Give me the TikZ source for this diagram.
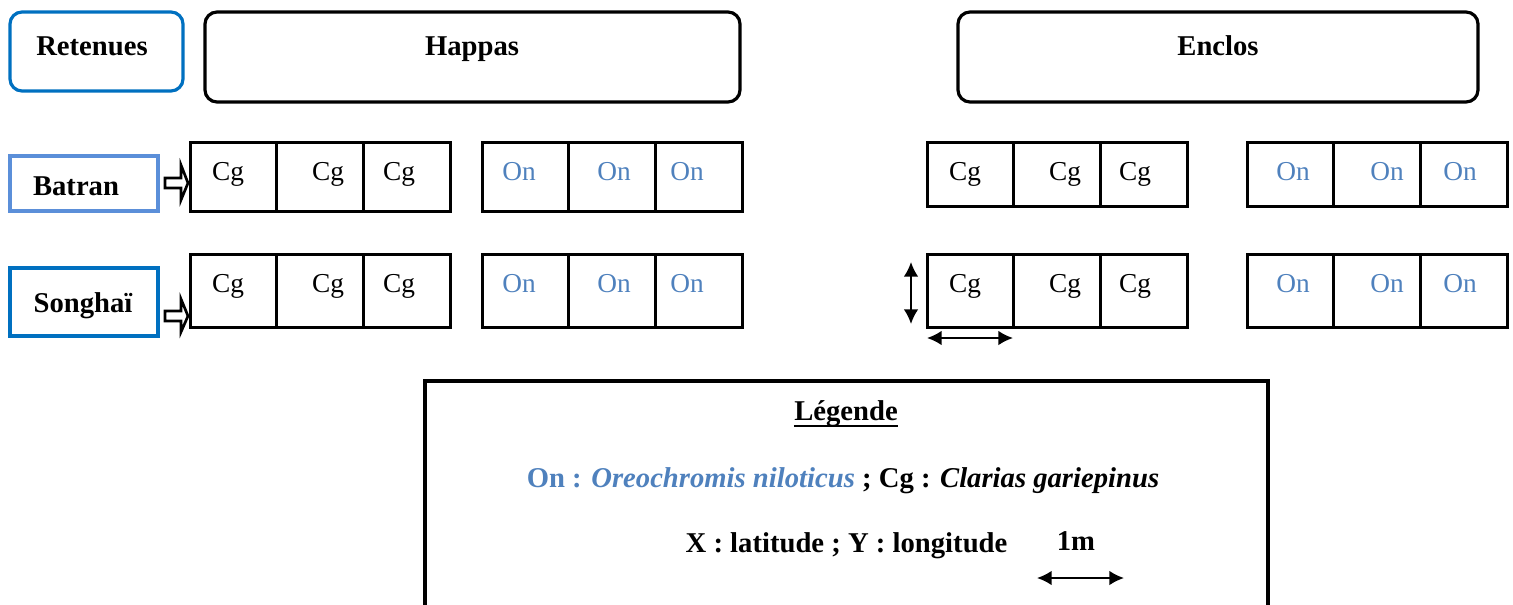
\documentclass[tikz,border=0pt]{standalone}
\usepackage{fontspec}
\setmainfont{Liberation Serif}
\usetikzlibrary{arrows.meta}
\definecolor{dblue}{HTML}{0070C0}
\definecolor{lblue}{HTML}{5B8FD9}
\definecolor{onblue}{HTML}{4F81BD}
\tikzset{
  hdrbox/.style={draw, line width=2.4pt, rounded corners=9pt, inner sep=0pt},
  sidebox/.style={draw, line width=2.4pt, inner sep=0pt},
  cellbox/.style={draw, line width=2.4pt, inner sep=0pt},
  hdrtxt/.style={font=\bfseries\fontsize{21.5}{25}\selectfont, inner sep=0pt, anchor=base},
  celltxt/.style={font=\fontsize{20.5}{24}\selectfont, inner sep=0pt, anchor=base},
  blockarrow/.style={draw, fill=white, line width=2pt, line join=miter},
  dimarrow/.style={{Latex[length=11pt,width=11pt]}-{Latex[length=11pt,width=11pt]}, line width=1.5pt},
}
\begin{document}
\begin{tikzpicture}[x=0.75pt,y=-0.75pt]
\useasboundingbox (0,0) rectangle (1513,604);
% header boxes
\node[hdrbox, draw=dblue, minimum width=173*0.75pt, minimum height=79*0.75pt] (ret) at (96.5,51.5) {};
\node[hdrtxt] (rett) at (92,55) {Retenues};
\node[hdrbox, minimum width=535*0.75pt, minimum height=90*0.75pt] (hap) at (472.5,57) {};
\node[hdrtxt] (hapt) at (472,55) {Happas};
\node[hdrbox, minimum width=520*0.75pt, minimum height=90*0.75pt] (enc) at (1218,57) {};
\node[hdrtxt] (enct) at (1218,55) {Enclos};
% side boxes
\node[sidebox, draw=lblue, minimum width=148*0.75pt, minimum height=55*0.75pt] (bat) at (84,183.5) {};
\node[hdrtxt] (batt) at (76,195) {Batran};
\node[sidebox, draw=dblue, minimum width=148*0.75pt, minimum height=68*0.75pt] (son) at (84,302) {};
\node[hdrtxt] (sont) at (83,312) {Songhaï};
% block arrows
\draw[blockarrow] (165,178) -- (181,178) -- (181,165) -- (188,183) -- (181,200) -- (181,188) -- (165,188) -- cycle;
\draw[blockarrow] (165,311) -- (181,311) -- (181,299) -- (188,316) -- (181,332) -- (181,321) -- (165,321) -- cycle;
% cell groups: #1 name, #2 x0, #3 ytop, #4 ybot, #5 label, #6 colour, #7,#8,#9 text x offsets
\newcommand{\cellgroup}[9]{%
  \node[cellbox, minimum width=86*0.75pt, minimum height={(#4-#3)*0.75pt}, anchor=north west] (#1a) at (#2,#3) {};
  \node[cellbox, minimum width=87*0.75pt, minimum height={(#4-#3)*0.75pt}, anchor=north west] (#1b) at (#2+86,#3) {};
  \node[cellbox, minimum width=87*0.75pt, minimum height={(#4-#3)*0.75pt}, anchor=north west] (#1c) at (#2+173,#3) {};
  \node[celltxt, text=#6] (#1ta) at (#2+#7,#3+39.5) {#5};
  \node[celltxt, text=#6] (#1tb) at (#2+#8,#3+39.5) {#5};
  \node[celltxt, text=#6] (#1tc) at (#2+#9,#3+39.5) {#5};
}
\cellgroup{hc1}{189}{141}{210}{Cg}{black}{39}{139}{210}
\cellgroup{ho1}{481}{141}{210}{On}{onblue}{38}{133}{206}
\cellgroup{hc2}{189}{253}{326}{Cg}{black}{39}{139}{210}
\cellgroup{ho2}{481}{253}{326}{On}{onblue}{38}{133}{206}
\cellgroup{ec1}{926}{141}{205}{Cg}{black}{39}{139}{209}
\cellgroup{eo1}{1246}{141}{205}{On}{onblue}{47}{141}{214}
\cellgroup{ec2}{926}{253}{326}{Cg}{black}{39}{139}{209}
\cellgroup{eo2}{1246}{253}{326}{On}{onblue}{47}{141}{214}
% dimension arrows
\coordinate (v1) at (911,262);
\coordinate (v2) at (911,324);
\draw[dimarrow] (v1) -- (v2);
\coordinate (h1) at (927,338);
\coordinate (h2) at (1013,338);
\draw[dimarrow] (h1) -- (h2);
% legend
\draw[line width=2.4pt] (425,610) -- (425,381) -- (1268,381) -- (1268,610);
\node[hdrtxt] (leg) at (846,420) {Légende};
\draw[line width=1.6pt] ([yshift=-6*0.75pt]leg.base west) -- ([yshift=-6*0.75pt]leg.base east);
\node[hdrtxt] (leg2) at (843,487) {\textcolor{onblue}{On : \textit{Oreochromis niloticus}} ; Cg : \textit{Clarias gariepinus}};
\node[hdrtxt] (leg3) at (846.5,552) {X : latitude ; Y : longitude};
\node[hdrtxt] (onem) at (1076,550) {1m};
\coordinate (m1) at (1037,578);
\coordinate (m2) at (1124,578);
\draw[dimarrow] (m1) -- (m2);
\end{tikzpicture}
\end{document}
